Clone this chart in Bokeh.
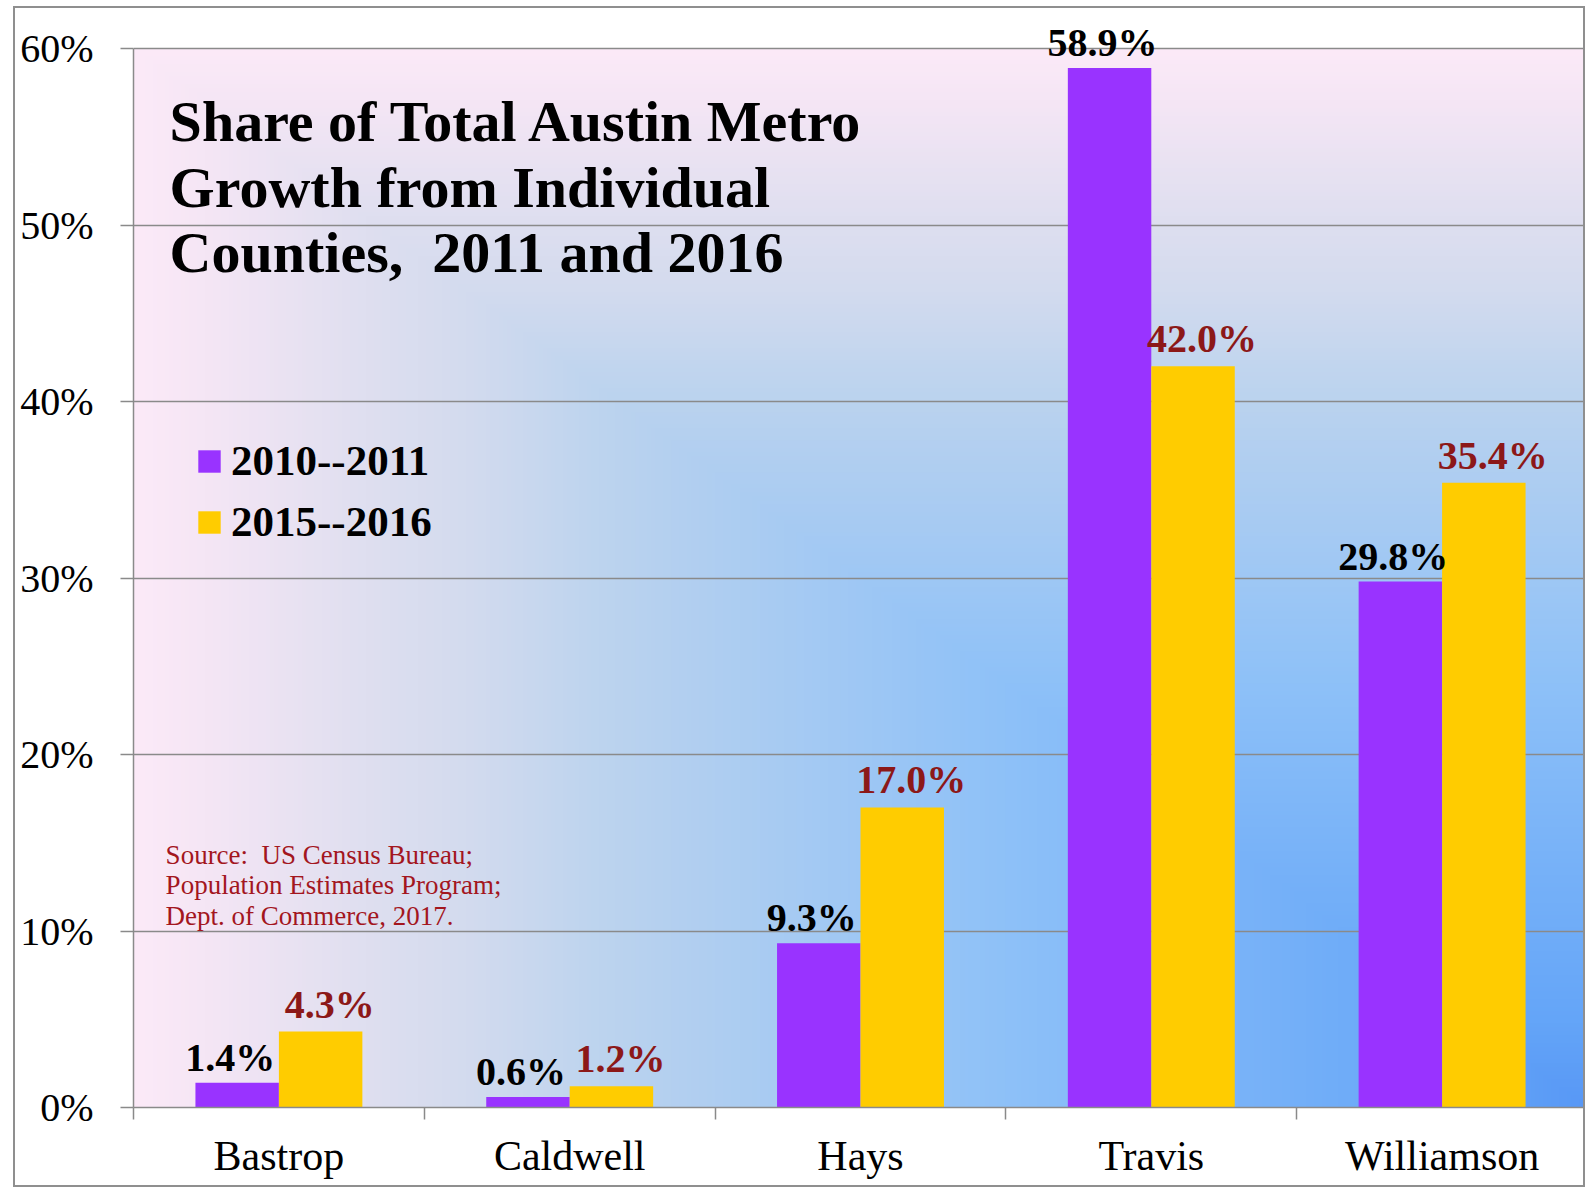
import numpy as np
from bokeh.plotting import figure
from bokeh.models import (Range1d, FixedTicker, PrintfTickFormatter, Label, Legend,
                          LegendItem, ColumnDataSource, LabelSet)
from bokeh.core.properties import value
from bokeh.embed import file_html
from bokeh.resources import INLINE

# ---------------- data ----------------
counties = ["Bastrop", "Caldwell", "Hays", "Travis", "Williamson"]
series_names = ["2010--2011", "2015--2016"]
share_2011 = [1.4, 0.6, 9.3, 58.9, 29.8]
share_2016 = [4.3, 1.2, 17.0, 42.0, 35.4]
y_ticks = [0, 10, 20, 30, 40, 50, 60]
title_lines = ["Share of Total Austin Metro", "Growth from Individual",
               "Counties,\u00a0 2011 and 2016"]
source_lines = ["Source:\u00a0 US Census Bureau;", "Population Estimates Program;",
                "Dept. of Commerce, 2017."]

# ---------------- style ----------------
FONT = "Liberation Serif"
PURPLE = "#9933FF"
YELLOW = "#FFCC00"
LABEL_RED = "#8C1818"
SOURCE_RED = "#A3161E"
GRID = "#8A8A8A"

# outer box (page px) and plot area (page px); the frame extends a bit above 60%
BOX_L, BOX_T, BOX_R, BOX_B = 13, 6, 1585, 1187
BORDER = 2
AREA_L, AREA_T, AREA_R, AREA_B = 133, 48, 1582, 1107
FRAME_T = 20
W, H = BOX_R - BOX_L, BOX_B - BOX_T
CANVAS_X0, CANVAS_Y0 = BOX_L + BORDER, BOX_T + BORDER
n = len(counties)
YMAX = 60
YTOP = YMAX * (AREA_B - FRAME_T) / (AREA_B - AREA_T)


def data_x(px):
    return (px - AREA_L) / (AREA_R - AREA_L) * n


def data_y(py):
    return (AREA_B - py) / (AREA_B - AREA_T) * YMAX


p = figure(width=W, height=H, x_range=Range1d(0, n), y_range=Range1d(0, YTOP),
           output_backend="svg", toolbar_location=None,
           min_border_left=AREA_L - CANVAS_X0, min_border_top=FRAME_T - CANVAS_Y0,
           min_border_right=0, min_border_bottom=82,
           background_fill_color="white", border_fill_color="white",
           styles={"border": f"{BORDER}px solid #8f8f8f",
                   "margin-left": f"{BOX_L}px", "margin-top": f"{BOX_T}px"})
p.outline_line_color = None

# ---------------- gradient background (plot area, 0-60%) ----------------
ny, nx = 265, 362
u = (np.arange(nx) + 0.5) / nx
v = (np.arange(ny) + 0.5) / ny
U, V = np.meshgrid(u, v)
T = np.maximum(1 - U, V)
stops_t = [0.0, 0.08, 0.40, 0.63, 0.68, 0.77, 0.84, 0.95, 1.0]
stops_r = [88, 100, 142, 180, 189, 211, 223, 245, 252]
stops_g = [152, 165, 193, 208, 212, 219, 223, 230, 234]
stops_b = [246, 248, 248, 240, 238, 238, 240, 245, 248]
img = np.empty((ny, nx), dtype=np.uint32)
view = img.view(dtype=np.uint8).reshape((ny, nx, 4))
view[..., 0] = np.interp(T, stops_t, stops_r).astype(np.uint8)
view[..., 1] = np.interp(T, stops_t, stops_g).astype(np.uint8)
view[..., 2] = np.interp(T, stops_t, stops_b).astype(np.uint8)
view[..., 3] = 255
p.image_rgba(image=[img], x=0, y=0, dw=n, dh=YMAX, level="image")

# ---------------- bars ----------------
bw = 0.287
centers = np.arange(n) + 0.5
src = ColumnDataSource(dict(
    xa=centers - bw / 2,
    xb=centers + bw / 2,
    county=counties,
    a=share_2011,
    b=share_2016,
    la=[f"{val:.1f}%" for val in share_2011],
    lb=[f"{val:.1f}%" for val in share_2016],
))
r1 = p.vbar(x="xa", top="a", width=bw, source=src,
            fill_color=PURPLE, line_color=None)
r2 = p.vbar(x="xb", top="b", width=bw, source=src,
            fill_color=YELLOW, line_color=None)

p.add_layout(LabelSet(x="xa", y="a", text="la", source=src,
                      text_font=value(FONT), text_font_style="bold",
                      text_font_size="40px", text_align="center",
                      text_baseline="alphabetic", text_color="black",
                      x_offset=-7, y_offset=12))
p.add_layout(LabelSet(x="xb", y="b", text="lb", source=src,
                      text_font=value(FONT), text_font_style="bold",
                      text_font_size="40px", text_align="center",
                      text_baseline="alphabetic", text_color=LABEL_RED,
                      x_offset=9, y_offset=14))

# ---------------- axes ----------------
xa = p.xaxis[0]
xa.ticker = FixedTicker(ticks=[float(c) for c in centers],
                        minor_ticks=list(range(n + 1)))
xa.major_label_overrides = {float(c): name for c, name in zip(centers, counties)}
xa.major_label_text_font = FONT
xa.major_label_text_font_size = "42px"
xa.major_label_text_color = "black"
xa.major_label_standoff = 13
xa.major_tick_out = 0
xa.major_tick_in = 0
xa.minor_tick_out = 12
xa.minor_tick_in = 0
xa.minor_tick_line_color = GRID
xa.minor_tick_line_width = 1.5
xa.axis_line_color = GRID
xa.axis_line_width = 1.5

ya = p.yaxis[0]
ya.ticker = FixedTicker(ticks=y_ticks)
ya.bounds = (0, YMAX)
ya.formatter = PrintfTickFormatter(format="%d%%")
ya.major_label_text_font = FONT
ya.major_label_text_font_size = "40px"
ya.major_label_text_color = "black"
ya.major_label_standoff = 27
ya.major_tick_out = 13
ya.major_tick_in = 0
ya.major_tick_line_color = GRID
ya.major_tick_line_width = 1.5
ya.minor_tick_line_color = None
ya.axis_line_color = GRID
ya.axis_line_width = 1.5

p.xgrid.visible = False
p.ygrid.ticker = FixedTicker(ticks=y_ticks)
p.ygrid.grid_line_color = GRID
p.ygrid.grid_line_width = 1.5

# ---------------- legend ----------------
legend = Legend(items=[LegendItem(label=series_names[0], renderers=[r1]),
                       LegendItem(label=series_names[1], renderers=[r2])],
                location=(62, 561), orientation="vertical",
                background_fill_alpha=0, border_line_alpha=0,
                padding=0, margin=0, spacing=12,
                glyph_width=28, glyph_height=28, label_standoff=8,
                label_height=48,
                label_text_font=FONT, label_text_font_size="43px",
                label_text_font_style="bold", label_text_color="black")
p.add_layout(legend)

# ---------------- title and source ----------------
for line, py in zip(title_lines, [120.5, 186.5, 251.5]):
    p.add_layout(Label(x=data_x(169), y=data_y(py), text=line,
                       text_font=FONT, text_font_style="bold",
                       text_font_size="58px", text_baseline="middle",
                       text_color="black"))

for line, py in zip(source_lines, [854, 884.5, 915]):
    p.add_layout(Label(x=data_x(165), y=data_y(py), text=line,
                       text_font=FONT, text_font_size="27px",
                       text_baseline="middle", text_color=SOURCE_RED))

open("out.html", "w").write(file_html(p, INLINE))
